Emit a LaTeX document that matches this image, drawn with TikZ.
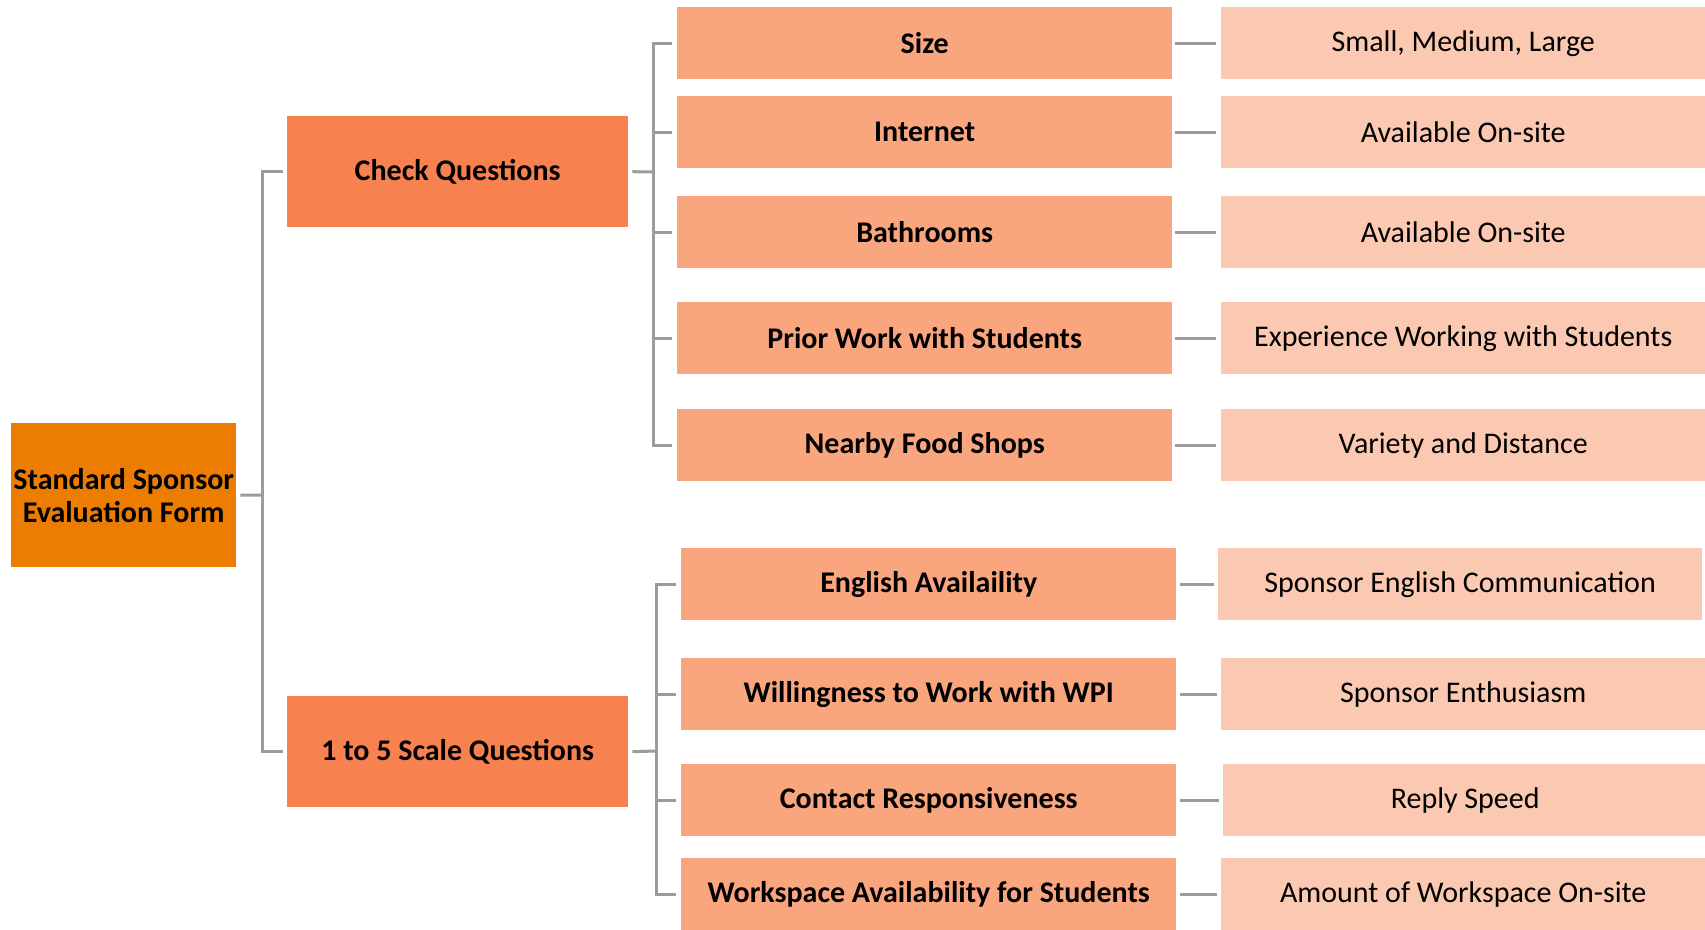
\documentclass[tikz,border=0pt]{standalone}
\usepackage{fontspec}
\setmainfont{Carlito}
\definecolor{rootc}{HTML}{ED7D00}
\definecolor{grpc}{HTML}{F8824F}
\definecolor{itemc}{HTML}{F9A57E}
\definecolor{descc}{HTML}{FBC9B1}
\definecolor{linec}{HTML}{A09A9A}
\tikzset{
  basebox/.style={anchor=north west, inner sep=0pt, align=center, text=black, font=\fontsize{30}{33}\selectfont},
  rootbox/.style={basebox, fill=rootc, minimum width=225pt, minimum height=144pt, font=\fontsize{30}{33}\selectfont\bfseries},
  grpbox/.style={basebox, fill=grpc, minimum width=341pt, minimum height=111pt, font=\fontsize{30}{33}\selectfont\bfseries},
  itembox/.style={basebox, fill=itemc, minimum width=495pt, minimum height=72pt, font=\fontsize{30}{33}\selectfont\bfseries},
  descbox/.style={basebox, fill=descc, minimum width=484pt, minimum height=72pt},
  conn/.style={draw=linec, line width=3pt}
}
\begin{document}
\begin{tikzpicture}[x=1pt,y=-1pt]
\useasboundingbox (0,0) rectangle (1705,929);
\clip (0,0) rectangle (1705,929);
% root
\node[rootbox] (root) at (11,423) {Standard Sponsor\\Evaluation Form};
% groups
\node[grpbox] (cq) at (287,116) {Check Questions};
\node[grpbox] (sc) at (287,696) {1 to 5 Scale Questions};
% upper items
\node[itembox] (size) at (677,7) {Size};
\node[itembox] (inet) at (677,96) {Internet};
\node[itembox] (bath) at (677,196) {Bathrooms};
\node[itembox] (prior) at (677,302) {Prior Work with Students};
\node[itembox] (food) at (677,409) {Nearby Food Shops};
% lower items
\node[itembox] (eng) at (681,548) {English Availaility};
\node[itembox] (will) at (681,658) {Willingness to Work with WPI};
\node[itembox] (cont) at (681,764) {Contact Responsiveness};
\node[itembox] (work) at (681,858) {Workspace Availability for Students};
% descriptions
\node[descbox] (dsize) at (1221,7) {Small, Medium, Large};
\node[descbox] (dinet) at (1221,96) {Available On-site};
\node[descbox] (dbath) at (1221,196) {Available On-site};
\node[descbox] (dprior) at (1221,302) {Experience Working with Students};
\node[descbox] (dfood) at (1221,409) {Variety and Distance};
\node[descbox] (deng) at (1218,548) {Sponsor English Communication};
\node[descbox] (dwill) at (1221,658) {Sponsor Enthusiasm};
\node[descbox] (dcont) at (1223,764) {Reply Speed};
\node[descbox] (dwork) at (1221,858) {Amount of Workspace On-site};
% bracket coordinates
\coordinate (rb) at (262,495);
\coordinate (cb) at (653,172);
\coordinate (sb) at (656,751);
% root connectors
\draw[conn] ([xshift=4]root.east) -- (rb);
\draw[conn] ([xshift=-4]cq.west) -| (rb) |- ([xshift=-4]sc.west);
% upper group
\draw[conn] ([xshift=4]cq.east) -- (cb);
\draw[conn] ([xshift=-5]size.west) -| (cb) |- ([xshift=-5]food.west);
\draw[conn] ([xshift=-5]inet.west) -- (inet.west -| cb);
\draw[conn] ([xshift=-5]bath.west) -- (bath.west -| cb);
\draw[conn] ([xshift=-5]prior.west) -- (prior.west -| cb);
% lower group
\draw[conn] ([xshift=4]sc.east) -- (sb);
\draw[conn] ([xshift=-5]eng.west) -| (sb) |- ([xshift=-5]work.west);
\draw[conn] ([xshift=-5]will.west) -- (will.west -| sb);
\draw[conn] ([xshift=-5]cont.west) -- (cont.west -| sb);
% item to description
\draw[conn] ([xshift=3]size.east) -- ([xshift=-5]dsize.west);
\draw[conn] ([xshift=3]inet.east) -- ([xshift=-5]dinet.west);
\draw[conn] ([xshift=3]bath.east) -- ([xshift=-5]dbath.west);
\draw[conn] ([xshift=3]prior.east) -- ([xshift=-5]dprior.west);
\draw[conn] ([xshift=3]food.east) -- ([xshift=-5]dfood.west);
\draw[conn] ([xshift=4]eng.east) -- ([xshift=-4]deng.west);
\draw[conn] ([xshift=4]will.east) -- ([xshift=-4]dwill.west);
\draw[conn] ([xshift=4]cont.east) -- ([xshift=-4]dcont.west);
\draw[conn] ([xshift=4]work.east) -- ([xshift=-4]dwork.west);
\end{tikzpicture}
\end{document}
